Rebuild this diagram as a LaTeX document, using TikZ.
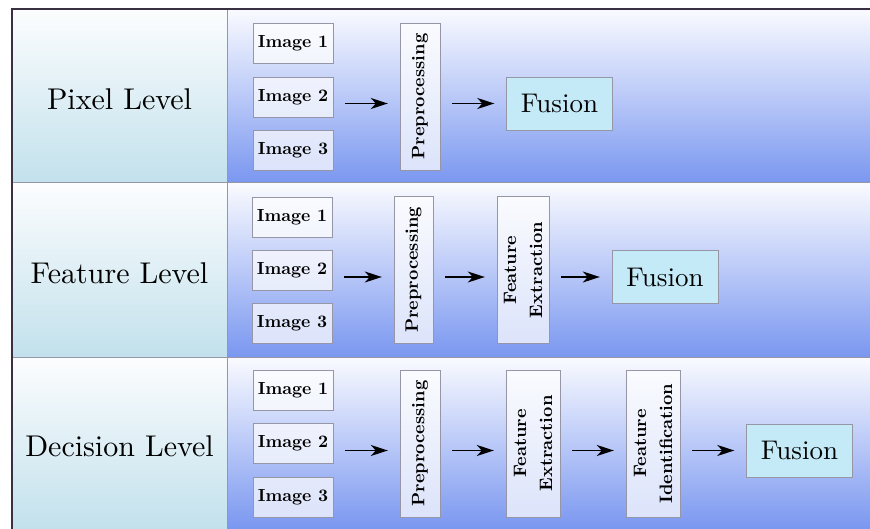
\documentclass[tikz,border=0pt]{standalone}
\usepackage{xcolor}
\usepackage{fontspec}
\setmainfont{lmroman10}[Extension=.otf, UprightFont=*-regular, BoldFont=*-bold]
\usetikzlibrary{calc, arrows.meta}

\definecolor{lvlTop}{RGB}{252,253,254}
\definecolor{lvlBot}{RGB}{194,225,236}
\definecolor{flowTop}{RGB}{250,251,255}
\definecolor{flowBot}{RGB}{122,151,240}
\definecolor{fuseFill}{RGB}{196,234,248}
\definecolor{boxLine}{RGB}{150,150,166}
\definecolor{frameLine}{RGB}{58,48,66}

\tikzset{
  imgbox/.style={draw=boxLine, fill=white, fill opacity=0.72, text opacity=1,
    minimum width=80pt, minimum height=40pt, inner sep=0pt,
    font=\fontsize{17.5}{19}\selectfont\bfseries},
  stagebox/.style={draw=boxLine, fill=white, fill opacity=0.72, text opacity=1,
    rotate=90, minimum width=147pt, inner sep=0pt, align=center,
    font=\fontsize{18}{26}\selectfont\bfseries},
  fusebox/.style={draw=boxLine, fill=fuseFill, minimum width=106pt,
    minimum height=53pt, inner sep=0pt, font=\fontsize{27}{29}\selectfont},
  lvltext/.style={font=\fontsize{30}{32}\selectfont},
  flow/.style={line width=1.5pt, -{Stealth[length=17pt,width=11pt,inset=5pt]},
    shorten <=12pt, shorten >=12pt}
}

\begin{document}
\begin{tikzpicture}[x=1pt,y=-1pt]
  \useasboundingbox (0,0) rectangle (870,529);

  % Background of the three rows
  \shade[top color=lvlTop, bottom color=lvlBot] (12,9) rectangle (227,183);
  \shade[top color=lvlTop, bottom color=lvlBot] (12,183) rectangle (227,357);
  \shade[top color=lvlTop, bottom color=lvlBot] (12,357) rectangle (227,529);
  \shade[top color=flowTop, bottom color=flowBot] (227,9) rectangle (870,183);
  \shade[top color=flowTop, bottom color=flowBot] (227,183) rectangle (870,357);
  \shade[top color=flowTop, bottom color=flowBot] (227,357) rectangle (870,529);

  % Grid lines
  \draw[boxLine, line width=1pt] (12,183) -- (870,183);
  \draw[boxLine, line width=1pt] (12,357) -- (870,357);
  \draw[boxLine, line width=0.8pt] (227,9) -- (227,529);
  \draw[frameLine, line width=2.2pt] (12,9) -- (870,9);
  \draw[frameLine, line width=2.2pt] (12,8) -- (12,529);

  % Level names
  \node[lvltext] (pixLvl) at (119.5,99) {Pixel Level};
  \node[lvltext] (feaLvl) at (119.5,273) {Feature Level};
  \node[lvltext] (decLvl) at (119.5,446) {Decision Level};

  % Pixel level
  \node[imgbox] (pixImgA) at (293,43) {Image 1};
  \node[imgbox] (pixImgB) at (293,97) {Image 2};
  \node[imgbox] (pixImgC) at (293,150) {Image 3};
  \node[stagebox, minimum height=40pt] (pixPre) at (420,96.5) {Preprocessing};
  \node[fusebox] (pixFus) at (559.5,103.5) {Fusion};
  \draw[flow] (pixImgB.east |- pixFus.west) -- (pixPre.north |- pixFus.west);
  \draw[flow] (pixPre.south |- pixFus.west) -- (pixFus.west);

  % Feature level
  \node[imgbox] (feaImgA) at (292,217) {Image 1};
  \node[imgbox] (feaImgB) at (292,270) {Image 2};
  \node[imgbox] (feaImgC) at (292,323) {Image 3};
  \node[stagebox, minimum height=39pt] (feaPre) at (413.5,270) {Preprocessing};
  \node[stagebox, minimum height=52pt] (feaExt) at (523,270) {Feature\\Extraction};
  \node[fusebox] (feaFus) at (665,277) {Fusion};
  \draw[flow] (feaImgB.east |- feaFus.west) -- (feaPre.north |- feaFus.west);
  \draw[flow] (feaPre.south |- feaFus.west) -- (feaExt.north |- feaFus.west);
  \draw[flow] (feaExt.south |- feaFus.west) -- (feaFus.west);

  % Decision level
  \node[imgbox] (decImgA) at (293,390) {Image 1};
  \node[imgbox] (decImgB) at (293,443.5) {Image 2};
  \node[imgbox] (decImgC) at (293,497.5) {Image 3};
  \node[stagebox, minimum height=40pt] (decPre) at (420,443.5) {Preprocessing};
  \node[stagebox, minimum height=54pt] (decExt) at (533,443.5) {Feature\\Extraction};
  \node[stagebox, minimum height=54pt] (decIdn) at (653,443.5) {Feature\\Identification};
  \node[fusebox] (decFus) at (799.5,450.5) {Fusion};
  \draw[flow] (decImgB.east |- decFus.west) -- (decPre.north |- decFus.west);
  \draw[flow] (decPre.south |- decFus.west) -- (decExt.north |- decFus.west);
  \draw[flow] (decExt.south |- decFus.west) -- (decIdn.north |- decFus.west);
  \draw[flow] (decIdn.south |- decFus.west) -- (decFus.west);

\end{tikzpicture}
\end{document}
